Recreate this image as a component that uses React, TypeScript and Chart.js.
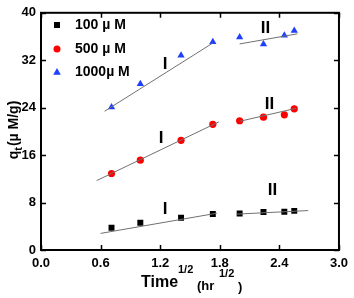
import React, { useEffect, useRef } from "react";
import { Chart, registerables } from "chart.js";
Chart.register(...registerables);

const xValues = [0.71, 1.0, 1.41, 1.73, 2.0, 2.24, 2.45, 2.55];
const q100 = [3.75, 4.6, 5.45, 6.07, 6.17, 6.4, 6.45, 6.6];
const q500 = [12.9, 15.15, 18.5, 21.2, 21.8, 22.4, 22.8, 23.8];
const q1000 = [24.1, 28.0, 32.8, 35.1, 35.9, 34.7, 36.2, 37.0];

const fit100I = [[0.6, 2.8], [1.77, 6.2]];
const fit100II = [[1.97, 6.05], [2.69, 6.65]];
const fit500I = [[0.56, 11.7], [1.79, 21.6]];
const fit500II = [[2.0, 21.7], [2.57, 23.9]];
const fit1000I = [[0.64, 23.4], [1.73, 34.9]];
const fit1000II = [[2.0, 34.75], [2.58, 36.45]];

const regionLabels = ["I", "II", "I", "II", "I", "II"];
const regionLabelX = [1.25, 2.26, 1.21, 2.3, 1.25, 2.33];
const regionLabelY = [31.3, 37.3, 18.9, 24.5, 6.9, 10.1];

const xTicks = [0, 0.6, 1.2, 1.8, 2.4, 3.0];
const yTicks = [0, 8, 16, 24, 32, 40];

const seriesNames = ["100 \u00b5 M", "500 \u00b5 M", "1000\u00b5 M"];
const seriesColors = ["#000000", "#ff0000", "#1f3fff"];
const seriesStyles = ["rect", "circle", "triangle"];

const FONT = "'Liberation Sans', Arial, sans-serif";

const toPts = (xs: number[], ys: number[]) => xs.map((x, i) => ({ x, y: ys[i] }));
const fitPts = (f: number[][]) => f.map((p) => ({ x: p[0], y: p[1] }));

const decorPlugin = {
  id: "decor",
  afterDraw(chart: any) {
    const ctx = chart.ctx;
    const { left, right, top, bottom } = chart.chartArea;
    const xs = chart.scales.x;
    const ys = chart.scales.y;
    ctx.save();
    // frame
    ctx.strokeStyle = "#000";
    ctx.lineWidth = 2;
    ctx.strokeRect(left, top, right - left, bottom - top);
    // ticks inward
    ctx.lineWidth = 1.5;
    ctx.beginPath();
    xTicks.forEach((v) => {
      const px = Math.round(xs.getPixelForValue(v)) + 0.5;
      ctx.moveTo(px, bottom);
      ctx.lineTo(px, bottom - 5);
      ctx.moveTo(px, top);
      ctx.lineTo(px, top + 5);
    });
    yTicks.forEach((v) => {
      const py = Math.round(ys.getPixelForValue(v)) + 0.5;
      ctx.moveTo(left, py);
      ctx.lineTo(left + 5, py);
      ctx.moveTo(right, py);
      ctx.lineTo(right - 5, py);
    });
    ctx.stroke();

    // region labels
    ctx.fillStyle = "#000";
    ctx.font = `bold 17px ${FONT}`;
    ctx.textAlign = "center";
    ctx.textBaseline = "middle";
    regionLabels.forEach((t, i) => {
      ctx.fillText(t, xs.getPixelForValue(regionLabelX[i]), ys.getPixelForValue(regionLabelY[i]));
    });

    // legend
    const rowY = [25, 49, 72];
    seriesNames.forEach((name, i) => {
      const mx = 57;
      const my = rowY[i];
      ctx.fillStyle = seriesColors[i];
      ctx.beginPath();
      if (seriesStyles[i] === "rect") {
        ctx.rect(mx - 3, my - 3, 6, 6);
      } else if (seriesStyles[i] === "circle") {
        ctx.arc(mx, my, 3.5, 0, Math.PI * 2);
      } else {
        ctx.moveTo(mx, my - 4);
        ctx.lineTo(mx + 3.8, my + 2.8);
        ctx.lineTo(mx - 3.8, my + 2.8);
        ctx.closePath();
      }
      ctx.fill();
      ctx.fillStyle = "#000";
      ctx.font = `bold 14px ${FONT}`;
      ctx.textAlign = "left";
      ctx.textBaseline = "middle";
      ctx.fillText(name, 75, my + 0.5);
    });

    // y title
    ctx.save();
    ctx.translate(18, 130);
    ctx.rotate(-Math.PI / 2);
    ctx.textBaseline = "alphabetic";
    ctx.textAlign = "left";
    ctx.font = `bold 14px ${FONT}`;
    const wq = ctx.measureText("q").width;
    ctx.font = `bold 11px ${FONT}`;
    const wt = ctx.measureText("t").width;
    ctx.font = `bold 14px ${FONT}`;
    const rest = "(\u00b5 M/g)";
    const wr = ctx.measureText(rest).width;
    const total = wq + wt + 1 + wr;
    let cx = -total / 2;
    ctx.fillText("q", cx, 0);
    cx += wq;
    ctx.font = `bold 11px ${FONT}`;
    ctx.fillText("t", cx, 4);
    cx += wt + 1;
    ctx.font = `bold 14px ${FONT}`;
    ctx.fillText(rest, cx, 0);
    ctx.restore();

    // x title
    ctx.textAlign = "left";
    ctx.textBaseline = "alphabetic";
    ctx.font = `bold 16px ${FONT}`;
    ctx.fillText("Time", 141, 287);
    ctx.font = `bold 11px ${FONT}`;
    ctx.fillText("1/2", 178, 273);
    ctx.font = `bold 13px ${FONT}`;
    ctx.fillText("(hr", 197, 290);
    ctx.font = `bold 11px ${FONT}`;
    ctx.fillText("1/2", 219, 277);
    ctx.font = `bold 13px ${FONT}`;
    ctx.fillText(")", 238, 291);
    ctx.restore();
  },
};

export default function App() {
  const ref = useRef<HTMLCanvasElement | null>(null);
  useEffect(() => {
    if (!ref.current) return;
    const scatter = (label: string, ys: number[], i: number, r: number) => ({
      label,
      data: toPts(xValues, ys),
      showLine: false,
      pointStyle: seriesStyles[i],
      pointRadius: r,
      pointBackgroundColor: seriesColors[i],
      pointBorderColor: seriesColors[i],
      pointBorderWidth: 0,
    });
    const fit = (f: number[][]) => ({
      data: fitPts(f),
      showLine: true,
      borderColor: "#707070",
      borderWidth: 1,
      pointRadius: 0,
      fill: false,
    });
    const chart = new Chart(ref.current, {
      type: "scatter",
      data: {
        datasets: [
          fit(fit100I),
          fit(fit100II),
          fit(fit500I),
          fit(fit500II),
          fit(fit1000I),
          fit(fit1000II),
          scatter(seriesNames[0], q100, 0, 4.2),
          scatter(seriesNames[1], q500, 1, 3.6),
          scatter(seriesNames[2], q1000, 2, 4.2),
        ] as any,
      },
      options: {
        animation: false,
        responsive: false,
        layout: { padding: { top: 7, right: 11, left: 0, bottom: 0 } },
        plugins: { legend: { display: false }, tooltip: { enabled: false } },
        scales: {
          x: {
            type: "linear",
            min: 0,
            max: 3,
            grid: { display: false, drawTicks: false },
            border: { display: true, color: "#000", width: 2 },
            afterBuildTicks: (s: any) => {
              s.ticks = xTicks.map((v) => ({ value: v }));
            },
            afterFit: (s: any) => {
              s.height = 48;
            },
            ticks: {
              color: "#000",
              padding: 6,
              font: { family: FONT, size: 13, weight: "bold" },
              callback: (v: any) => Number(v).toFixed(1),
            },
          },
          y: {
            type: "linear",
            min: 0,
            max: 40,
            grid: { display: false, drawTicks: false },
            border: { display: true, color: "#000", width: 2 },
            afterBuildTicks: (s: any) => {
              s.ticks = yTicks.map((v) => ({ value: v }));
            },
            afterFit: (s: any) => {
              s.width = 41;
            },
            ticks: {
              color: "#000",
              padding: 5,
              font: { family: FONT, size: 13, weight: "bold" },
              callback: (v: any) => String(v),
            },
          },
        },
      },
      plugins: [decorPlugin],
    });
    return () => chart.destroy();
  }, []);
  return (
    <div style={{ position: "absolute", left: 0, top: 0, width: 354, height: 298, background: "#fff" }}>
      <canvas ref={ref} width={354} height={298} />
    </div>
  );
}
